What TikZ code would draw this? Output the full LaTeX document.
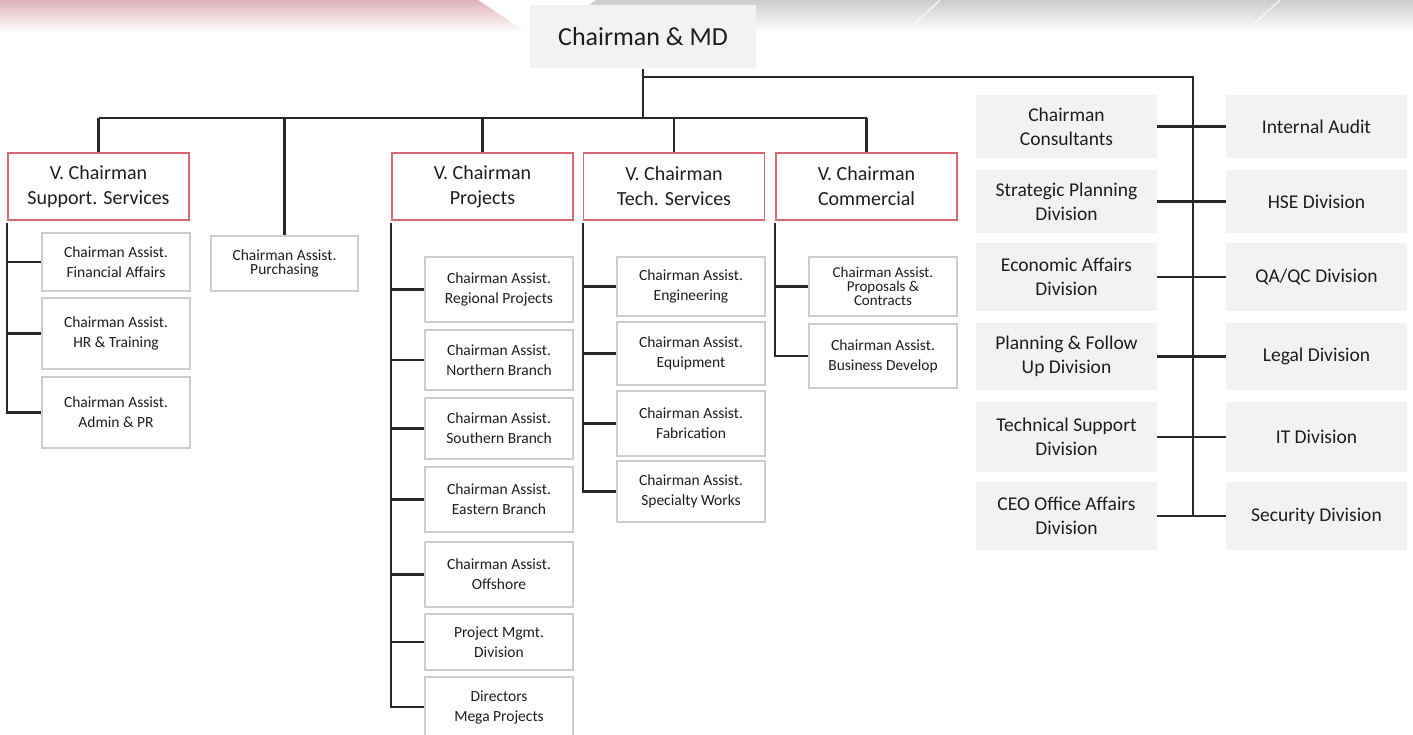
\documentclass[tikz,border=0pt]{standalone}
\usepackage{fontspec}
\setmainfont{Carlito}
\usepackage{tikz}
\definecolor{boxgray}{RGB}{242,242,242}
\definecolor{boxline}{RGB}{205,205,205}
\definecolor{vpred}{RGB}{218,104,114}
\definecolor{linegray}{RGB}{40,40,40}
\definecolor{txt}{RGB}{30,30,30}
\tikzstyle{head}=[fill=boxgray, minimum width=226, minimum height=63, text=txt, font=\fontsize{26}{30}\selectfont]
\tikzstyle{vp}=[draw=vpred, line width=1.6pt, fill=white, minimum width=181, minimum height=67, align=center, text=txt, font=\fontsize{20}{25}\selectfont]
\tikzstyle{assist}=[draw=boxline, line width=1.8pt, fill=white, minimum width=148, inner sep=0, align=center, text=txt, font=\fontsize{15.5}{20}\selectfont]
\tikzstyle{unit}=[fill=boxgray, minimum width=181, inner sep=0, align=center, text=txt, font=\fontsize{19.5}{24}\selectfont]
\tikzstyle{link}=[draw=linegray, line width=2.2pt]

\begin{document}
\begin{tikzpicture}[x=1pt, y=-1pt]
\useasboundingbox (0,0) rectangle (1413,735);
\shade[top color={rgb,255:red,222;green,178;blue,184}, bottom color=white] (0,0) -- (478,0) -- (526,32) -- (0,32) -- cycle;
\shade[top color=gray!40, bottom color=white] (596,0) -- (1413,0) -- (1413,32) -- (552,32) -- cycle;
\draw[white, opacity=.7, line width=1.5pt] (940,0) -- (912,26);
\draw[white, opacity=.7, line width=1.5pt] (1280,0) -- (1252,26);

\node[head] (md) at (643,37) {Chairman \& MD};
\coordinate (bus) at (643,118);
\coordinate (rtop) at (1193,77);

\node[vp] (sup) at (98.5,186.5) {V. Chairman\\Support. Services};
\node[vp] (prj) at (482.5,186.5) {V. Chairman\\Projects};
\node[vp] (tec) at (674,186.5) {V. Chairman\\Tech. Services};
\node[vp] (com) at (866.5,186.5) {V. Chairman\\Commercial};
\node[assist, minimum width=147, minimum height=55, font=\fontsize{15.5}{14}\selectfont] (pur) at (284.5,263.5) {Chairman Assist.\\Purchasing};

\node[assist, minimum height=58] (fin) at (116,262) {Chairman Assist.\\Financial Affairs};
\node[assist, minimum height=71] (hrt) at (116,333.5) {Chairman Assist.\\HR \& Training};
\node[assist, minimum height=71] (adm) at (116,412.5) {Chairman Assist.\\Admin \& PR};

\node[assist, minimum height=65] (reg) at (499,289.5) {Chairman Assist.\\Regional Projects};
\node[assist, minimum height=60] (nor) at (499,360) {Chairman Assist.\\Northern Branch};
\node[assist, minimum height=61] (sou) at (499,428.5) {Chairman Assist.\\Southern Branch};
\node[assist, minimum height=65] (eas) at (499,499.5) {Chairman Assist.\\Eastern Branch};
\node[assist, minimum height=65] (off) at (499,574.5) {Chairman Assist.\\Offshore};
\node[assist, minimum height=56] (pmd) at (499,642) {Project Mgmt.\\Division};
\node[assist, minimum height=60] (meg) at (499,707) {Directors\\Mega Projects};

\node[assist, minimum height=59] (eng) at (691,286.5) {Chairman Assist.\\Engineering};
\node[assist, minimum height=63] (equ) at (691,353.5) {Chairman Assist.\\Equipment};
\node[assist, minimum height=65] (fab) at (691,423.5) {Chairman Assist.\\Fabrication};
\node[assist, minimum height=61] (spw) at (691,491.5) {Chairman Assist.\\Specialty Works};

\node[assist, minimum height=59, font=\fontsize{15}{14}\selectfont] (pro) at (883,286.5) {Chairman Assist.\\Proposals \&\\Contracts};
\node[assist, minimum height=64] (bdv) at (883,356) {Chairman Assist.\\Business Develop};

\node[unit, minimum height=63] (cc) at (1066.5,126.5) {Chairman\\Consultants};
\node[unit, minimum height=63] (spd) at (1066.5,201.5) {Strategic Planning\\Division};
\node[unit, minimum height=68] (ead) at (1066.5,277) {Economic Affairs\\Division};
\node[unit, minimum height=67] (pfd) at (1066.5,356.5) {Planning \& Follow\\Up Division};
\node[unit, minimum height=70] (tsd) at (1066.5,437) {Technical Support\\Division};
\node[unit, minimum height=68] (ceo) at (1066.5,516) {CEO Office Affairs\\Division};

\node[unit, minimum height=63] (ia) at (1316.5,126.5) {Internal Audit};
\node[unit, minimum height=63] (hse) at (1316.5,201.5) {HSE Division};
\node[unit, minimum height=68] (qa) at (1316.5,277) {QA/QC Division};
\node[unit, minimum height=67] (leg) at (1316.5,356.5) {Legal Division};
\node[unit, minimum height=70] (it) at (1316.5,437) {IT Division};
\node[unit, minimum height=68] (sec) at (1316.5,516) {Security Division};

\draw[link] (md.south) -- (bus);
\draw[link] (sup.north |- bus) -- (com.north |- bus);
\foreach \t in {sup, pur, prj, tec, com}
  \draw[link] (\t.north |- bus) -- (\t.north);
\draw[link] (md.south |- rtop) -- (rtop) -- (rtop |- ceo.east);
\foreach \f/\t in {cc/ia, spd/hse, ead/qa, pfd/leg, tsd/it, ceo/sec}
  \draw[link] (\f.east) -- (\t.west);
\foreach \f/\t in {sup/fin, sup/hrt, sup/adm, prj/reg, prj/nor, prj/sou, prj/eas, prj/off, prj/pmd, prj/meg, tec/eng, tec/equ, tec/fab, tec/spw, com/pro, com/bdv}
  \draw[link] ([yshift=-2pt]\f.south west) |- (\t.west);
\end{tikzpicture}
\end{document}
